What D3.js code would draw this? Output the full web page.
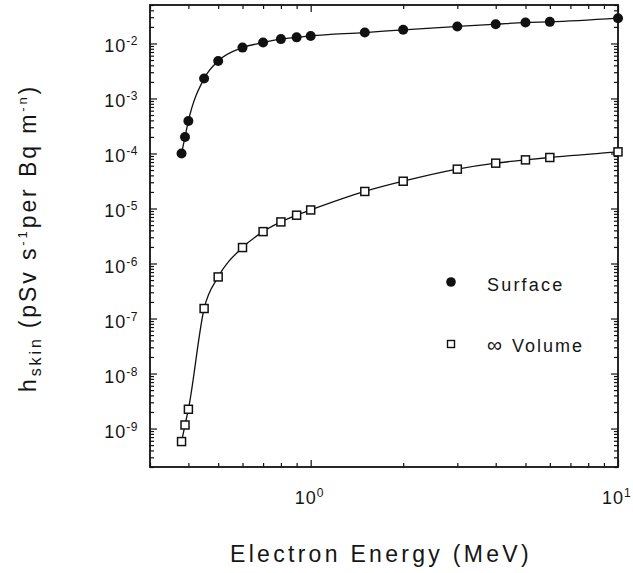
<!DOCTYPE html>
<html><head><meta charset="utf-8">
<script src="https://cdn.jsdelivr.net/npm/d3@7"></script>
<style>
body{margin:0;background:#fff}
text{font-family:"Liberation Sans",Arial,Helvetica,sans-serif;fill:#151515}
</style>
</head><body>
<svg id="c" width="633" height="573"></svg>
<script>
// ---- data ----
const energy  = [0.38, 0.39, 0.40, 0.45, 0.50, 0.60, 0.70, 0.80, 0.90, 1.0, 1.5, 2, 3, 4, 5, 6, 10];
const surface = [1.0e-4, 2.0e-4, 3.9e-4, 2.3e-3, 4.8e-3, 8.4e-3, 1.04e-2, 1.2e-2, 1.29e-2, 1.37e-2, 1.58e-2, 1.77e-2, 2.04e-2, 2.24e-2, 2.41e-2, 2.47e-2, 2.88e-2];
const volume  = [5.8e-10, 1.16e-9, 2.24e-9, 1.52e-7, 5.7e-7, 1.95e-6, 3.8e-6, 5.7e-6, 7.55e-6, 9.4e-6, 2.04e-5, 3.13e-5, 5.19e-5, 6.67e-5, 7.65e-5, 8.45e-5, 1.07e-4];
const xTickValues = [1, 10];
const xTickExp    = ["0", "1"];
const yTickExp    = [-9, -8, -7, -6, -5, -4, -3, -2];
const seriesNames = ["Surface", "Volume"];

// ---- layout ----
const svg = d3.select("#c");
const L = 150, T = 5, R = 618, B = 467;
const x = d3.scaleLog().domain([0.3, 10]).range([L, R]);
const y = d3.scaleLog().domain([2e-10, 5e-2]).range([B, T]);

// minor tick values
const xMinor = [];
[0.1, 1].forEach(d => { for (let k = 2; k <= 9; k++) { const v = +(k * d).toFixed(3); if (v >= 0.3 && v <= 10) xMinor.push(v); } });
const yMinor = [];
for (let e = -10; e <= -2; e++) for (let k = 2; k <= 9; k++) { const v = k * Math.pow(10, e); if (v >= 2e-10 * 0.999 && v <= 5e-2 * 1.001) yMinor.push(v); }
const yMajor = yTickExp.map(e => Math.pow(10, e));

function axisG(axis, tx, ty) {
  const g = svg.append("g").attr("transform", `translate(${tx},${ty})`).call(axis);
  g.select(".domain").remove();
  g.selectAll("line").attr("stroke", "#111").attr("stroke-width", 1.2);
  g.selectAll("text").remove();
  return g;
}
// bottom / top
axisG(d3.axisBottom(x).tickValues(xTickValues).tickSize(-7).tickFormat(""), 0, B);
axisG(d3.axisBottom(x).tickValues(xMinor).tickSize(-4).tickFormat(""), 0, B);
axisG(d3.axisTop(x).tickValues(xTickValues).tickSize(-7).tickFormat(""), 0, T);
axisG(d3.axisTop(x).tickValues(xMinor).tickSize(-4).tickFormat(""), 0, T);
// left / right
axisG(d3.axisLeft(y).tickValues(yMajor).tickSize(-7).tickFormat(""), L, 0);
axisG(d3.axisLeft(y).tickValues(yMinor).tickSize(-4).tickFormat(""), L, 0);
axisG(d3.axisRight(y).tickValues(yMajor).tickSize(-7).tickFormat(""), R, 0);
axisG(d3.axisRight(y).tickValues(yMinor).tickSize(-4).tickFormat(""), R, 0);

// frame
svg.append("rect").attr("x", L).attr("y", T).attr("width", R - L).attr("height", B - T)
  .attr("fill", "none").attr("stroke", "#111").attr("stroke-width", 1.8);

// y tick labels
yTickExp.forEach(e => {
  const t = svg.append("text").attr("x", 138).attr("y", y(Math.pow(10, e)) + 9)
    .attr("text-anchor", "end").style("font-size", "18px").style("letter-spacing", "1px");
  t.append("tspan").text("10");
  t.append("tspan").attr("dy", -7).style("font-size", "12px").style("letter-spacing", "0.5px").text("-" + Math.abs(e));
});
// x tick labels
xTickValues.forEach((v, i) => {
  const t = svg.append("text").attr("x", x(v) - 16).attr("y", 504)
    .style("font-size", "18px").style("letter-spacing", "1px");
  t.append("tspan").text("10");
  t.append("tspan").attr("dy", -7).style("font-size", "12px").text(xTickExp[i]);
});

// titles
svg.append("text").attr("x", 230).attr("y", 562).style("font-size", "23px").style("letter-spacing", "3.3px")
  .text("Electron Energy (MeV)");

const yt = svg.append("text").attr("transform", "translate(36,392) rotate(-90)")
  .attr("text-anchor", "start").style("font-size", "23px").style("letter-spacing", "2.9px");
yt.append("tspan").text("h");
yt.append("tspan").attr("dy", 5).style("font-size", "16px").text("skin");
yt.append("tspan").attr("dy", -5).attr("dx", 8).text("(pSv s");
yt.append("tspan").attr("dy", -9).style("font-size", "13px").text("-1");
yt.append("tspan").attr("dy", 9).text("per Bq m");
yt.append("tspan").attr("dy", -9).style("font-size", "13px").text("-n");
yt.append("tspan").attr("dy", 9).text(")");

// lines
const line = d3.line().x(d => x(d[0])).y(d => y(d[1])).curve(d3.curveMonotoneX);
const sData = energy.map((e, i) => [e, surface[i]]);
const vData = energy.map((e, i) => [e, volume[i]]);
[sData, vData].forEach(d => svg.append("path").attr("d", line(d)).attr("fill", "none")
  .attr("stroke", "#111").attr("stroke-width", 1.3));

// markers
svg.append("g").selectAll("circle").data(sData).join("circle")
  .attr("cx", d => x(d[0])).attr("cy", d => y(d[1])).attr("r", 5).attr("fill", "#111");
const sq = 8;
svg.append("g").selectAll("rect").data(vData).join("rect")
  .attr("x", d => x(d[0]) - sq / 2).attr("y", d => y(d[1]) - sq / 2)
  .attr("width", sq).attr("height", sq).attr("fill", "#fff").attr("stroke", "#111").attr("stroke-width", 1.5);

// legend
svg.append("circle").attr("cx", 451).attr("cy", 282).attr("r", 4.8).attr("fill", "#111");
svg.append("text").attr("x", 487).attr("y", 291).style("font-size", "18px").style("letter-spacing", "2.2px").text(seriesNames[0]);
svg.append("rect").attr("x", 447.5).attr("y", 340.5).attr("width", 7).attr("height", 7)
  .attr("fill", "#fff").attr("stroke", "#111").attr("stroke-width", 1.4);
const lv = svg.append("text").attr("x", 487).attr("y", 352).style("font-size", "18px").style("letter-spacing", "2px");
lv.append("tspan").style("font-size", "21px").text("\u221E");
lv.append("tspan").attr("x", 512).text(seriesNames[1]);
</script>
</body></html>
